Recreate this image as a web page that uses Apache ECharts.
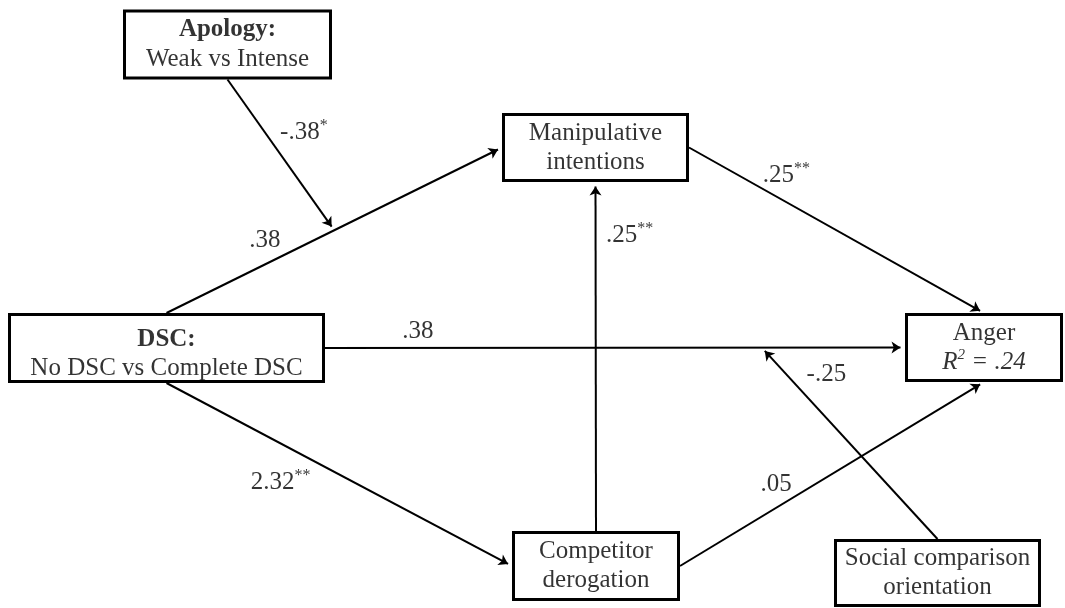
<!DOCTYPE html>
<html>
<head>
<meta charset="utf-8">
<title>Path model</title>
<script src="https://cdn.jsdelivr.net/npm/echarts@6/dist/echarts.min.js"></script>
<style>
  html, body { margin: 0; padding: 0; background: #fff; }
  #chart { width: 1065px; height: 608px; }
</style>
</head>
<body>
<div id="chart"></div>
<script>
// model boxes
const nodeIds = ['apology', 'manip', 'dsc', 'anger', 'derog', 'sco']
const nodeTitles = ['Apology:', 'Manipulative', 'DSC:', 'Anger', 'Competitor', 'Social comparison']
const nodeSubtitles = ['Weak vs Intense', 'intentions', 'No DSC vs Complete DSC', 'R^2 = .24', 'derogation', 'orientation']

// paths (a target like '#0' means the arrow points at path 0)
const pathFrom = ['dsc', 'dsc', 'dsc', 'derog', 'manip', 'derog', 'apology', 'sco']
const pathTo = ['manip', 'anger', 'derog', 'manip', 'anger', 'anger', '#0', '#1']
const pathCoef = ['.38', '.38', '2.32', '.25', '.25', '.05', '-.38', '-.25']
const pathStars = ['', '', '**', '**', '**', '', '*', '']

// layout: box centre / outer size in px, text style per line
const boxLayout = {
  apology: { cx: 227.5, cy: 44.5, w: 209, h: 70, title: 'b', sub: 'n' },
  manip: { cx: 595.5, cy: 147.5, w: 187, h: 69, title: 'n', sub: 'n' },
  dsc: { cx: 166.5, cy: 348, w: 317, h: 70, title: 'b', sub: 'n', dy: 6 },
  anger: { cx: 984, cy: 347.5, w: 158, h: 69, title: 'n', sub: 'i' },
  derog: { cx: 596, cy: 566, w: 168, h: 70, title: 'n', sub: 'n' },
  sco: { cx: 937.5, cy: 573, w: 207, h: 68, title: 'n', sub: 'n' }
}

// which side each path leaves / enters, and where its coefficient sits
const pathLayout = [
  { from: 'top', to: 'left', label: [0.29, 1, -25] },
  { from: 'right', to: 'left', label: [0.16, 0, -16] },
  { from: 'bottom', to: 'left', label: [0.33, 0, 39] },
  { from: 'top', to: 'bottom', label: [0.85, 34, 1] },
  { from: 'right', to: 'top', label: [0.33, 0, -27] },
  { from: 'right', to: 'bottom', label: [0.316, 0, -23] },
  { from: 'bottom', at: 0.5, label: [0.35, 39, 0] },
  { from: 'top', at: 0.753, label: [0.86, 40, 0] }
]

const arrowSize = 9
const borderWidth = 3
const font = 'Liberation Serif, Times New Roman, serif'

function anchor (id, side) {
  const b = boxLayout[id]
  if (side === 'top') return [b.cx, b.cy - b.h / 2]
  if (side === 'bottom') return [b.cx, b.cy + b.h / 2]
  if (side === 'left') return [b.cx - b.w / 2, b.cy]
  return [b.cx + b.w / 2, b.cy]
}

const pathEnds = []
pathFrom.forEach((from, i) => {
  const lay = pathLayout[i]
  const p1 = anchor(from, lay.from)
  let p2
  if (pathTo[i][0] === '#') {
    const target = pathEnds[+pathTo[i].slice(1)]
    p2 = [
      target[0][0] + (target[1][0] - target[0][0]) * lay.at,
      target[0][1] + (target[1][1] - target[0][1]) * lay.at
    ]
  } else {
    p2 = anchor(pathTo[i], lay.to)
  }
  pathEnds.push([p1, p2])
})

function richText (text, style) {
  return text.split(/\^(\w)/).map((part, k) => {
    if (!part) return ''
    return '{' + style + (k % 2 ? 'sup' : '') + '|' + part + '}'
  }).join('')
}

const rich = {
  b: { fontFamily: font, fontSize: 25, fontWeight: 'bold', color: '#000', lineHeight: 29 },
  n: { fontFamily: font, fontSize: 25, color: '#000', lineHeight: 29 },
  i: { fontFamily: font, fontSize: 25, fontStyle: 'italic', color: '#000', lineHeight: 29 },
  nsup: { fontFamily: font, fontSize: 16, color: '#000', verticalAlign: 'top', lineHeight: 15 },
  isup: { fontFamily: font, fontSize: 15, fontStyle: 'italic', color: '#000', verticalAlign: 'top', lineHeight: 15 }
}

const boxData = nodeIds.map((id, i) => {
  const b = boxLayout[id]
  return {
    value: [b.cx, b.cy],
    label: {
      offset: [0, b.dy || 0],
      formatter: richText(nodeTitles[i], b.title) + '\n' + richText(nodeSubtitles[i], b.sub)
    }
  }
})

const lineData = pathEnds.map(([p1, p2]) => {
  const len = Math.hypot(p2[0] - p1[0], p2[1] - p1[1])
  const back = arrowSize / 2
  return {
    coords: [p1, [p2[0] - (p2[0] - p1[0]) / len * back, p2[1] - (p2[1] - p1[1]) / len * back]]
  }
})

const coefData = pathEnds.map(([p1, p2], i) => {
  const [t, dx, dy] = pathLayout[i].label
  return {
    value: [p1[0] + (p2[0] - p1[0]) * t + dx, p1[1] + (p2[1] - p1[1]) * t + dy],
    label: {
      formatter: '{n|' + pathCoef[i] + '}' + (pathStars[i] ? '{nsup|' + pathStars[i] + '}' : '')
    }
  }
})

const chart = echarts.init(document.getElementById('chart'))

chart.setOption({
  animation: false,
  grid: { left: 0, right: 0, top: 0, bottom: 0 },
  xAxis: { type: 'value', min: 0, max: 1065, show: false },
  yAxis: { type: 'value', min: 0, max: 608, inverse: true, show: false },
  series: [
    {
      type: 'lines',
      coordinateSystem: 'cartesian2d',
      z: 1,
      symbol: ['none', 'arrow'],
      symbolSize: arrowSize,
      lineStyle: { color: '#000', width: 2, opacity: 1 },
      data: lineData
    },
    {
      // box outlines
      type: 'custom',
      z: 2,
      data: nodeIds.map(id => [boxLayout[id].cx, boxLayout[id].cy]),
      renderItem (params, api) {
        const b = boxLayout[nodeIds[params.dataIndex]]
        const c = api.coord([api.value(0), api.value(1)])
        const s = api.size([b.w, b.h])
        const half = borderWidth / 2
        return {
          type: 'rect',
          shape: { x: c[0] - s[0] / 2 + half, y: c[1] - s[1] / 2 + half, width: s[0] - borderWidth, height: s[1] - borderWidth },
          style: { fill: '#fff', stroke: '#000', lineWidth: borderWidth }
        }
      }
    },
    {
      // box texts
      type: 'scatter',
      z: 3,
      symbolSize: 1,
      itemStyle: { color: 'rgba(0,0,0,0)' },
      label: { show: true, position: 'inside', rich },
      emphasis: { disabled: true },
      data: boxData
    },
    {
      // path coefficients
      type: 'scatter',
      z: 3,
      symbolSize: 1,
      itemStyle: { color: 'rgba(0,0,0,0)' },
      label: { show: true, position: 'inside', rich },
      emphasis: { disabled: true },
      data: coefData
    }
  ]
})
</script>
</body>
</html>
